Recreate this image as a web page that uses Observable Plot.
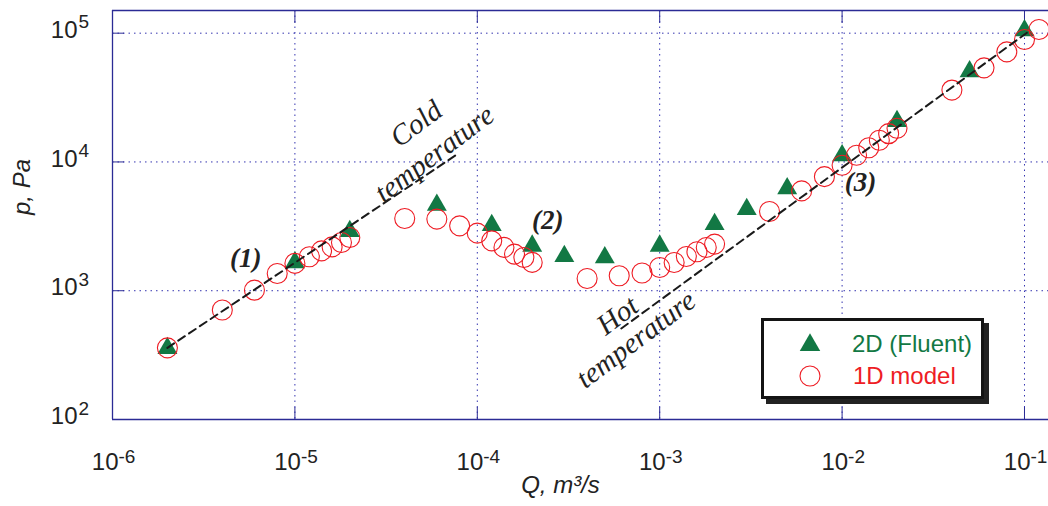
<!DOCTYPE html>
<html>
<head>
<meta charset="utf-8">
<script src="https://cdn.jsdelivr.net/npm/d3@7"></script>
<script src="https://cdn.jsdelivr.net/npm/@observablehq/plot@0.6"></script>
<style>
  html, body { margin: 0; padding: 0; background: #fff; }
  #wrap { position: relative; width: 1048px; height: 506px; overflow: hidden; }
  #legend { position: absolute; left: 761px; top: 318px; width: 223px; height: 81px; box-sizing: border-box;
    border: 3px solid #141414; background: #fff; box-shadow: 5px 5px 0 #222; }
</style>
</head>
<body>
<div id="wrap"><div id="chart"></div><div id="legend"></div></div>
<script>
// ---- data ----
const fluentQ = [2e-6, 1e-5, 2e-5, 6e-5, 1.2e-4, 2e-4, 3e-4, 5e-4, 1e-3, 2e-3, 3e-3, 5e-3, 1e-2, 2e-2, 5e-2, 1e-1];
const fluentP = [357, 1660, 2900, 4640, 3220, 2230, 1850, 1810, 2230, 3280, 4290, 6220, 11200, 20700, 50300, 105000];

const modelQ = [2e-6, 4e-6, 6e-6, 8e-6, 1e-5, 1.2e-5, 1.4e-5, 1.6e-5, 1.8e-5, 2e-5,
  4e-5, 6e-5, 8e-5, 1e-4, 1.2e-4, 1.4e-4, 1.6e-4, 1.8e-4, 2e-4,
  4e-4, 6e-4, 8e-4, 1e-3, 1.2e-3, 1.4e-3, 1.6e-3, 1.8e-3, 2e-3,
  4e-3, 6e-3, 8e-3, 1e-2, 1.2e-2, 1.4e-2, 1.6e-2, 1.8e-2, 2e-2,
  4e-2, 6e-2, 8e-2, 1e-1, 1.2e-1];
const modelP = [360, 708, 1010, 1360, 1630, 1835, 2040, 2190, 2370, 2590,
  3635, 3600, 3190, 2800, 2440, 2170, 1925, 1810, 1660,
  1245, 1307, 1372, 1516, 1657, 1845, 2006, 2166, 2302,
  4120, 5960, 7690, 9420, 11270, 12900, 14730, 16580, 18250,
  36150, 53800, 71600, 89300, 106900];

const coldLineQ = [2e-6, 7.71e-5];
const coldLineP = [360, 11400];
const hotLineQ = [6.16e-4, 0.107];
const hotLineP = [509, 104700];

const xTicks = [1e-6, 1e-5, 1e-4, 1e-3, 1e-2, 1e-1];
const xTickExp = ["-6", "-5", "-4", "-3", "-2", "-1"];
const yTicks = [1e2, 1e3, 1e4, 1e5];
const yTickExp = ["2", "3", "4", "5"];

const notes = ["(1)", "(2)", "(3)"];
const notesQ = [5.37e-6, 2.43e-4, 1.26e-2];
const notesP = [1770, 3510, 6950];

const labels = ["Cold", "temperature", "Hot", "temperature"];
const labelsQ = [4.62e-5, 5.82e-5, 5.87e-4, 7.41e-4];
const labelsP = [19770, 11560, 642, 418];

const xLabel = "Q, m³/s";
const yLabel = "p, Pa";
const legendNames = ["2D (Fluent)", "1D model"];

// ---- build tables ----
const fluent = fluentQ.map((q, i) => ({q, p: fluentP[i]}));
const model = modelQ.map((q, i) => ({q, p: modelP[i]}));
const cold = coldLineQ.map((q, i) => ({q, p: coldLineP[i]}));
const hot = hotLineQ.map((q, i) => ({q, p: hotLineP[i]}));
const xt = xTicks.map((v, i) => ({v, e: xTickExp[i]}));
const yt = yTicks.map((v, i) => ({v, e: yTickExp[i]}));
const nt = notes.map((t, i) => ({t, q: notesQ[i], p: notesP[i]}));
const lt = labels.map((t, i) => ({t, q: labelsQ[i], p: labelsP[i]}));

const GREEN = "#127844", RED = "#ee1c24", NAVY = "#2b2b95", GRID = "#3434b0";
const xMin = 1e-6, xMax = 0.1354, yMin = 100, yMax = 150000;
const sans = "'Liberation Sans', Arial, sans-serif";
const serif = "'Liberation Serif', 'Times New Roman', serif";

const chart = Plot.plot({
  width: 1048, height: 506,
  marginLeft: 112, marginRight: 0, marginTop: 10, marginBottom: 87,
  style: {fontFamily: sans, background: "white", overflow: "visible"},
  x: {type: "log", domain: [xMin, xMax], axis: null},
  y: {type: "log", domain: [yMin, yMax], axis: null},
  marks: [
    Plot.gridX(xTicks, {stroke: GRID, strokeOpacity: 1, strokeWidth: 1, strokeDasharray: "1.5,4"}),
    Plot.gridY(yTicks, {stroke: GRID, strokeOpacity: 1, strokeWidth: 1, strokeDasharray: "1.5,4"}),
    Plot.axisX(xTicks, {anchor: "bottom", tickSize: -12, tickFormat: () => "", stroke: NAVY, strokeWidth: 1}),
    Plot.axisX(xTicks, {anchor: "top", tickSize: -12, tickFormat: () => "", stroke: NAVY, strokeWidth: 1}),
    Plot.axisY(yTicks, {anchor: "left", tickSize: -12, tickFormat: () => "", stroke: NAVY, strokeWidth: 1}),
    Plot.ruleY([yMin, yMax], {stroke: NAVY, strokeWidth: 1.3}),
    Plot.ruleX([xMin], {stroke: NAVY, strokeWidth: 1.3}),
    // tick labels
    Plot.text(xt, {x: "v", y: () => yMin, text: () => "10", textAnchor: "end", dx: 6, dy: 43, fontSize: 24, fill: "#222"}),
    Plot.text(xt, {x: "v", y: () => yMin, text: "e", textAnchor: "start", dx: 6, dy: 37, fontSize: 19, fill: "#222"}),
    Plot.text(yt, {x: () => xMin, y: "v", text: () => "10", textAnchor: "end", dx: -35, dy: -3, fontSize: 24, fill: "#222"}),
    Plot.text(yt, {x: () => xMin, y: "v", text: "e", textAnchor: "start", dx: -34, dy: -11, fontSize: 19, fill: "#222"}),
    // axis titles
    Plot.text([xLabel], {frameAnchor: "bottom", text: d => d, dx: -20, dy: 73, fontSize: 24, fontStyle: "italic", fill: "#222"}),
    Plot.text([yLabel], {frameAnchor: "left", text: d => d, dx: -90, rotate: -90, fontSize: 24, fontStyle: "italic", fill: "#222"}),
    // data
    Plot.dot(fluent, {x: "q", y: "p", symbol: "triangle", r: 7.4, fill: GREEN, stroke: "none"}),
    Plot.dot(model, {x: "q", y: "p", symbol: "circle", r: 10, fill: "none", stroke: RED, strokeWidth: 1.1}),
    Plot.line(cold, {x: "q", y: "p", stroke: "#1a1a1a", strokeWidth: 2, strokeDasharray: "8,5"}),
    Plot.line(hot, {x: "q", y: "p", stroke: "#1a1a1a", strokeWidth: 2, strokeDasharray: "8,5"}),
    // annotations
    Plot.text(nt, {x: "q", y: "p", text: "t", fontFamily: serif, fontStyle: "italic", fontWeight: "bold", fontSize: 27, fill: "#222"}),
    Plot.text(lt, {x: "q", y: "p", text: "t", rotate: -37, fontFamily: serif, fontStyle: "italic", fontSize: 29, fill: "#222"})
  ]
});
document.getElementById("chart").appendChild(chart);

// legend
const lg = d3.select("#legend").append("svg").attr("width", 217).attr("height", 75)
  .style("font-family", sans);
lg.append("path").attr("d", d3.symbol(d3.symbolTriangle, Math.PI * 7.6 * 7.6)())
  .attr("transform", "translate(46,24)").attr("fill", GREEN);
lg.append("circle").attr("cx", 46).attr("cy", 55).attr("r", 10).attr("fill", "none").attr("stroke", RED).attr("stroke-width", 1.1);
lg.append("text").attr("x", 88).attr("y", 31).attr("font-size", 24).attr("fill", GREEN).text(legendNames[0]);
lg.append("text").attr("x", 89).attr("y", 63).attr("font-size", 24).attr("fill", RED).text(legendNames[1]);
</script>
</body>
</html>
